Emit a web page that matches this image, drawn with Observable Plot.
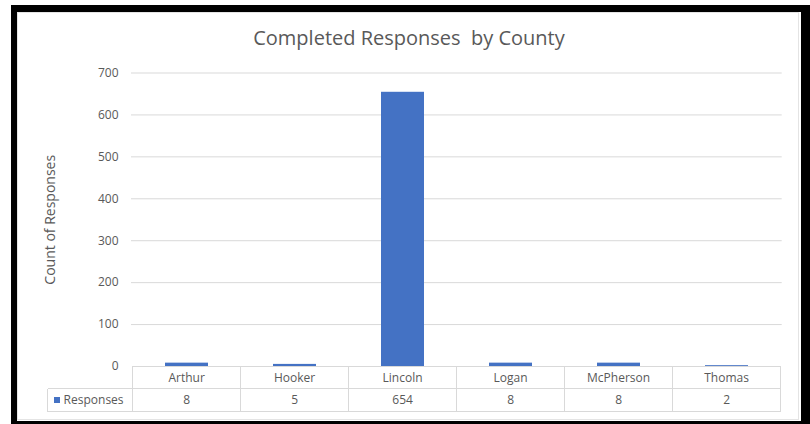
<!DOCTYPE html>
<html>
<head>
<meta charset="utf-8">
<script src="https://cdn.jsdelivr.net/npm/d3@7"></script>
<script src="https://cdn.jsdelivr.net/npm/@observablehq/plot@0.6"></script>
<style>
  body { margin: 0; background: #fff; }
  #wrap { position: relative; width: 810px; height: 424px; overflow: hidden; font-family: "Open Sans", sans-serif; }
  #chart { position: absolute; left: 0; top: 0; }
  #title { position: absolute; left: 17px; width: 784px; top: 24px; text-align: center;
           font-size: 20px; color: #595959; white-space: pre; }
  #inner { position: absolute; left: 17px; top: 12px; width: 782px; height: 408px;
           border: 1px solid #e4e4e4; box-sizing: border-box; pointer-events: none; }
  #frame { position: absolute; left: 11px; top: 5px; width: 799px; height: 419px; box-sizing: border-box;
           border-style: solid; border-color: #000; border-width: 7px 9px 3px 6px; pointer-events: none; }
</style>
</head>
<body>
<div id="wrap">
  <div id="chart"></div>
  <div id="title">Completed Responses  by County</div>
  <div id="inner"></div>
  <div id="frame"></div>
</div>
<script>
// Completed survey responses per county
const counties = ["Arthur", "Hooker", "Lincoln", "Logan", "McPherson", "Thomas"];
const responses = [8, 5, 654, 8, 8, 2];
const seriesName = "Responses";
const yTicks = [0, 100, 200, 300, 400, 500, 600, 700];
const yLabel = "Count of Responses";

const data = counties.map((county, i) => ({county, value: responses[i]}));

const BLUE = "#4472C4";
const TEXT = "#595959";
const LINE = "#d9d9d9";
const PAD_INNER = 0.6;

// Data table under the plot: a header row of counties and a row of values,
// with columns aligned to the x band scale.
function dataTable(index, scales, values, dims) {
  const x = scales.x, y = scales.y;
  const step = x(counties[1]) - x(counties[0]);
  const colLeft = c => x(c) - step * PAD_INNER / 2;
  const left = colLeft(counties[0]);
  const right = colLeft(counties[counties.length - 1]) + step;
  const top = y(0);
  const rowH = 22.8;
  const keyLeft = left - 85;
  const g = d3.create("svg:g")
    .attr("stroke", LINE).attr("fill", "none").attr("shape-rendering", "crispEdges");
  // horizontal rules
  g.append("line").attr("x1", left).attr("x2", right).attr("y1", top).attr("y2", top);
  g.append("line").attr("x1", keyLeft).attr("x2", right).attr("y1", top + rowH).attr("y2", top + rowH);
  g.append("line").attr("x1", keyLeft).attr("x2", right).attr("y1", top + 2 * rowH).attr("y2", top + 2 * rowH);
  // vertical rules
  g.append("line").attr("x1", keyLeft).attr("x2", keyLeft).attr("y1", top + rowH).attr("y2", top + 2 * rowH);
  counties.forEach(c => {
    g.append("line").attr("x1", colLeft(c)).attr("x2", colLeft(c)).attr("y1", top).attr("y2", top + 2 * rowH);
  });
  g.append("line").attr("x1", right).attr("x2", right).attr("y1", top).attr("y2", top + 2 * rowH);

  const t = g.append("g").attr("stroke", "none").attr("fill", TEXT)
    .attr("font-size", 12).attr("font-family", "Open Sans, sans-serif");
  counties.forEach((c, i) => {
    const cx = colLeft(c) + step / 2;
    t.append("text").attr("x", cx).attr("y", top + rowH / 2).attr("dy", "0.35em")
      .attr("text-anchor", "middle").text(c);
    t.append("text").attr("x", cx).attr("y", top + 1.5 * rowH).attr("dy", "0.35em")
      .attr("text-anchor", "middle").text(responses[i]);
  });
  // series key and name
  g.append("rect").attr("stroke", "none").attr("fill", BLUE)
    .attr("x", keyLeft + 6).attr("y", top + 1.5 * rowH - 3).attr("width", 6).attr("height", 6);
  t.append("text").attr("x", keyLeft + 16).attr("y", top + 1.5 * rowH).attr("dy", "0.35em")
    .attr("text-anchor", "start").text(seriesName);
  return g.node();
}

const chart = Plot.plot({
  width: 810,
  height: 424,
  marginLeft: 131,
  marginRight: 28.3,
  marginTop: 72.5,
  marginBottom: 58,
  style: {background: "transparent", fontFamily: "Open Sans, sans-serif", fontSize: "12px", color: TEXT},
  x: {domain: counties, paddingInner: PAD_INNER, paddingOuter: PAD_INNER / 2, axis: null},
  y: {domain: [0, 700], axis: null},
  marks: [
    Plot.gridY(yTicks.filter(d => d > 0), {stroke: LINE, strokeOpacity: 1}),
    Plot.axisY(yTicks, {tickSize: 0, tickPadding: 13, label: null, fill: TEXT, fontSize: 12}),
    Plot.text([yLabel], {frameAnchor: "left", dx: -81, rotate: -90, textAnchor: "middle", fill: TEXT, fontSize: 14}),
    Plot.barY(data, {x: "county", y: "value", fill: BLUE}),
    dataTable
  ]
});
document.getElementById("chart").append(chart);
</script>
</body>
</html>
